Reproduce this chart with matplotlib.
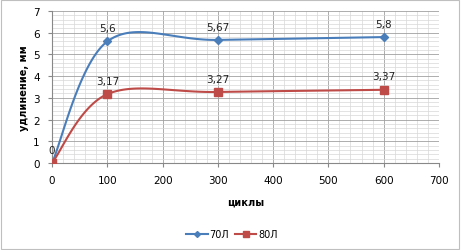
import numpy as np
import matplotlib.pyplot as plt
from matplotlib.patches import Rectangle

cycles = [0, 100, 300, 600]
s70 = [0, 5.6, 5.67, 5.8]
s80 = [0, 3.17, 3.27, 3.37]
names = ['70Л', '80Л']
xticks = [0, 100, 200, 300, 400, 500, 600, 700]
yticks = [0, 1, 2, 3, 4, 5, 6, 7]


def smooth(xs, ys, n=40):
    # excel-like smoothed line: bezier with catmull-rom control points
    p = np.column_stack([xs, ys]).astype(float)
    out = []
    for i in range(len(p) - 1):
        p0 = p[i - 1] if i > 0 else p[i]
        p1 = p[i]
        p2 = p[i + 1]
        p3 = p[i + 2] if i + 2 < len(p) else p[i + 1]
        c1 = p1 + (p2 - p0) / 6
        c2 = p2 - (p3 - p1) / 6
        t = np.linspace(0, 1, n)[:, None]
        b = (1 - t) ** 3 * p1 + 3 * (1 - t) ** 2 * t * c1 + 3 * (1 - t) * t ** 2 * c2 + t ** 3 * p2
        out.append(b)
    b = np.vstack(out)
    return b[:, 0], b[:, 1]


fig = plt.figure(figsize=(4.61, 2.51), dpi=100)
ax = fig.add_axes([0.113, 0.347, 0.839, 0.605])
fig.patches.append(Rectangle((0.003, 0.005), 0.993, 0.99, transform=fig.transFigure,
                             fill=False, edgecolor='#bfbfbf', linewidth=0.8))

ax.set_xlim(0, 700)
ax.set_ylim(0, 7)
ax.set_xticks(xticks)
ax.set_yticks(yticks)
ax.set_xticks(np.arange(0, 701, 20), minor=True)
ax.set_yticks(np.arange(0, 7.01, 0.2), minor=True)
ax.grid(True, which='major', color='#a0a0a0', linewidth=0.6)
ax.grid(True, which='minor', color='#d8d8d8', linewidth=0.5)
ax.set_axisbelow(True)
ax.tick_params(which='minor', length=0)
ax.tick_params(which='major', length=3, color='#888888', labelsize=7.5, pad=6)
for s in ['top', 'right']:
    ax.spines[s].set_visible(False)
for s in ['left', 'bottom']:
    ax.spines[s].set_color('#888888')
    ax.spines[s].set_linewidth(0.8)

colors = ['#4a7ebb', '#be4b48']
markers = ['D', 's']
msize = [4, 6]
lsize = [3, 5]
for ys, nm, c, m, ms, ls in zip([s70, s80], names, colors, markers, msize, lsize):
    sx, sy = smooth(cycles, ys)
    ax.plot(sx, sy, color=c, linewidth=1.5, zorder=3)
    ax.plot(cycles, ys, linestyle='none', marker=m, markersize=ms, color=c, zorder=4)
    ax.plot([], [], color=c, marker=m, markersize=ls, linewidth=1.5, label=nm)
    for xv, yv in zip(cycles, ys):
        lbl = ('%g' % yv).replace('.', ',')
        if nm == '80Л' and xv == 0:
            continue
        ax.annotate(lbl, (xv, yv), xytext=(0, 6), textcoords='offset points',
                    ha='center', va='bottom', fontsize=7.5, color='#222222', zorder=5)

ax.set_xlabel('циклы', fontsize=7, fontweight='bold', labelpad=8)
ax.set_ylabel('удлинение, мм', fontsize=7, fontweight='bold', labelpad=3)
ax.legend(loc='upper center', bbox_to_anchor=(0.465, -0.38), ncol=2, frameon=False,
          fontsize=7, handlelength=2.2, columnspacing=0.6, handletextpad=0.2)

fig.savefig('out.png', dpi=100)
